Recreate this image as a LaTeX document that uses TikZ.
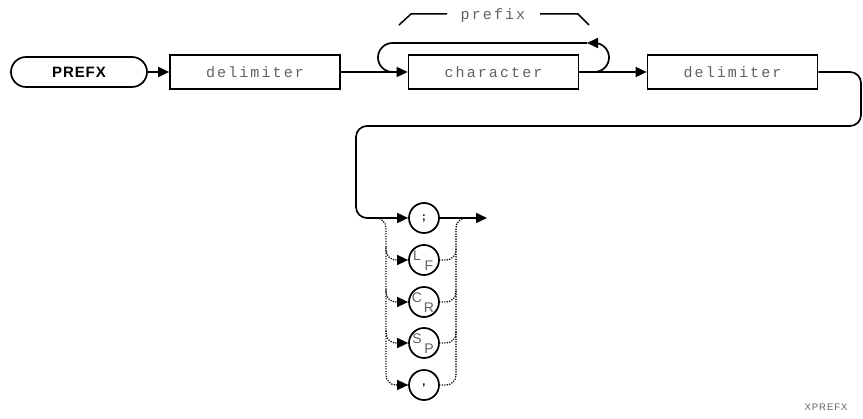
\documentclass[tikz,border=0pt]{standalone}
\usepackage{fontspec}
\setmainfont{Liberation Sans}
\newfontfamily\plotfont[LetterSpace=14]{Liberation Mono}
\newfontfamily\smallsans[LetterSpace=10]{Liberation Sans}
\newfontfamily\boldsans[LetterSpace=6]{Liberation Sans}
\usetikzlibrary{arrows.meta}
\begin{document}
\begin{tikzpicture}[x=1pt,y=-1pt,
  tip/.style={-{Triangle[length=11pt,width=10pt]}},
  conn/.style={line width=1.7pt, tip},
  wire/.style={line width=1.7pt},
  dotline/.style={line width=1.7pt, dash pattern=on 0pt off 2.5pt, line cap=round},
  stepbox/.style={draw, line width=1.7pt, minimum width=170pt, minimum height=34pt, inner sep=0pt,
    font=\plotfont\fontsize{15}{15}\selectfont, text=black!62},
  term/.style={draw, line width=1.7pt, rounded corners=15pt, minimum width=136pt, minimum height=30pt,
    inner sep=0pt, font=\boldsans\bfseries\fontsize{15}{15}\selectfont},
  circ/.style={draw, circle, line width=1.7pt, minimum size=30pt, inner sep=0pt},
  sym/.style={inner sep=0pt, font=\fontsize{14}{14}\selectfont, text=black!62},
  punct/.style={inner sep=0pt, font=\bfseries\fontsize{11}{11}\selectfont},
  brack/.style={line width=1.5pt},
]
\useasboundingbox (0,0) rectangle (863,419);

% top row
\node[term] (prefx) at (79,72) {PREFX};
\node[stepbox] (d1) at (255,72) {delimiter};
\node[stepbox] (chr) at (493.5,72) {character};
\node[stepbox] (d2) at (732.5,72) {delimiter};

\draw[conn] (prefx.east) -- (d1.west);
\draw[conn] (d1.east) -- (chr.west);
\draw[conn] (chr.east) -- (d2.west);

% repeat loop
\coordinate (la) at (580,72);
\coordinate (lb) at (609,72);
\coordinate (lc) at (609,43);
\coordinate (ld) at (587,43);
\coordinate (le) at (378,43);
\coordinate (lf) at (378,72);
\coordinate (lg) at (400,72);
\draw[conn, rounded corners=14.5pt] (la) -- (lb) -- (lc) -- (ld);
\draw[wire, rounded corners=14.5pt] (ld) -- (le) -- (lf) -- (lg);

% prefix bracket
\node[inner sep=0pt, font=\plotfont\fontsize{15}{15}\selectfont, text=black!62] (pfx) at (493,16) {prefix};
\coordinate (pa) at (399,25);
\coordinate (pb) at (411,14);
\coordinate (pc) at (447,14);
\coordinate (pd) at (540,14);
\coordinate (pe) at (578,14);
\coordinate (pf) at (589,25);
\draw[brack] (pa) -- (pb) -- (pc);
\draw[brack] (pd) -- (pe) -- (pf);

% circles
\node[circ] (c1) at (424,218) {};
\node[circ] (c2) at (424,260) {};
\node[circ] (c3) at (424,302) {};
\node[circ] (c4) at (424,343) {};
\node[circ] (c5) at (424,385) {};

\node[punct] (t1) at (424,219) {;};
\node[sym] (t2a) at (417,256) {L};
\node[sym] (t2b) at (429,266) {F};
\node[sym] (t3a) at (417,298) {C};
\node[sym] (t3b) at (429,308) {R};
\node[sym] (t4a) at (417,339) {S};
\node[sym] (t4b) at (429,349) {P};
\node[punct] (t5) at (424,386) {,};

% return path
\coordinate (r1) at (861,72);
\coordinate (r2) at (861,126);
\coordinate (r3) at (356,126);
\coordinate (r4) at (356,218);
\draw[conn, rounded corners=11pt] (d2.east) -- (r1) -- (r2) -- (r3) -- (r4) -- (c1.west);

% exit
\coordinate (out) at (487,218);
\draw[conn] (c1.east) -- (out);

% dotted alternatives, left side
\coordinate (ls) at (375,218);
\coordinate (lv1) at (386,218);
\coordinate (lv5) at (386,385);
\draw[dotline, rounded corners=10pt] (ls) -- (lv1) -- (lv5) -- (c5.west);
\draw[tip, line width=1.5pt] ([xshift=-4pt]c5.west) -- (c5.west);
\foreach \c/\y in {c2/260, c3/302, c4/343}{
  \coordinate (lt\c) at (386,\y-12);
  \coordinate (lm\c) at (386,\y);
  \draw[dotline, rounded corners=10pt] (lt\c) -- (lm\c) -- (\c.west);
  \draw[tip, line width=1.5pt] ([xshift=-4pt]\c.west) -- (\c.west);
}

% dotted alternatives, right side
\coordinate (rv5) at (456,385);
\coordinate (rv1) at (456,218);
\coordinate (re) at (468,218);
\draw[dotline, rounded corners=10pt] (c5.east) -- (rv5) -- (rv1) -- (re);
\foreach \c/\y in {c2/260, c3/302, c4/343}{
  \coordinate (rm\c) at (456,\y);
  \coordinate (rt\c) at (456,\y-12);
  \draw[dotline, rounded corners=10pt] (\c.east) -- (rm\c) -- (rt\c);
}

\node[inner sep=0pt, font=\smallsans\fontsize{9.5}{9.5}\selectfont, text=black!62] (cap) at (826,407) {XPREFX};
\end{tikzpicture}
\end{document}
